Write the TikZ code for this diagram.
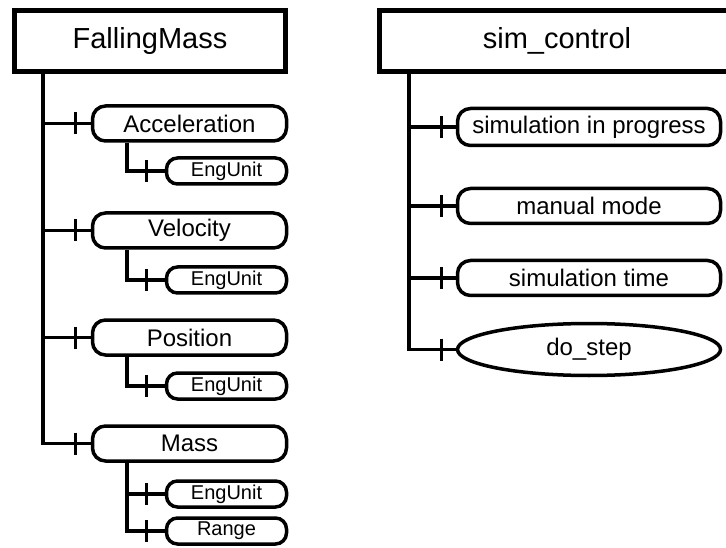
\documentclass[tikz,border=0pt]{standalone}
\usepackage{fontspec}
\setmainfont{Liberation Sans}
\usetikzlibrary{shapes.geometric}
\tikzset{
  x=1pt, y=-1pt,
  titlebox/.style={draw, line width=5pt, minimum width=271pt, minimum height=61pt,
    inner sep=0pt, font=\fontsize{29}{34}\selectfont},
  itembox/.style={draw, line width=3.5pt, rounded corners=13pt, minimum width=194pt,
    minimum height=35pt, inner sep=0pt, font=\fontsize{24}{28}\selectfont},
  wideitem/.style={itembox, minimum width=263pt},
  subbox/.style={draw, line width=3.5pt, rounded corners=11pt, minimum width=120pt,
    minimum height=26pt, inner sep=0pt, font=\fontsize{20}{24}\selectfont},
  ovalbox/.style={draw, ellipse, line width=3.5pt, minimum width=263pt, minimum height=52pt,
    inner sep=0pt, font=\fontsize{24}{28}\selectfont},
  link/.style={line width=3.5pt},
}
\newcommand{\crossbar}[2]{\draw[link] ([xshift=-#2pt]#1.west) ++(0,-11) -- ++(0,22);}
\begin{document}
\begin{tikzpicture}
\useasboundingbox (0,0) rectangle (726,548);
\clip (0,0) rectangle (726,548);

% FallingMass tree
\node[titlebox] (fm) at (150,41) {FallingMass};
\node[itembox] (acc) at (189.5,123.5) {Acceleration};
\node[subbox] (accu) at (226.5,171) {EngUnit};
\node[itembox] (vel) at (189.5,230.5) {Velocity};
\node[subbox] (velu) at (226.5,280) {EngUnit};
\node[itembox] (pos) at (189.5,337.5) {Position};
\node[subbox] (posu) at (226.5,386) {EngUnit};
\node[itembox] (mass) at (189.5,443.5) {Mass};
\node[subbox] (massu) at (226.5,494) {EngUnit};
\node[subbox] (range) at (226.5,531) {Range};

\coordinate (fmtrunk) at (fm.south -| 43,0);
\draw[link] (fmtrunk) |- (mass.west);
\foreach \n in {acc,vel,pos}{\draw[link] (\n.west -| fmtrunk) -- (\n.west);}
\foreach \n in {acc,vel,pos,mass}{\crossbar{\n}{15.5}}

\foreach \p/\c in {acc/accu,vel/velu,pos/posu}{
  \draw[link] (\p.south -| 127,0) |- (\c.west);
  \crossbar{\c}{18.5}
}
\draw[link] (mass.south -| 127,0) |- (range.west);
\draw[link] (massu.west -| 127,0) -- (massu.west);
\crossbar{massu}{18.5}
\crossbar{range}{18.5}

% sim_control tree
\node[titlebox, minimum width=356pt] (sc) at (557,41) {sim\_control};
\node[wideitem, minimum height=37pt] (prog) at (589,127) {simulation in progress};
\node[wideitem] (man) at (589,206) {manual mode};
\node[wideitem] (time) at (589,278) {simulation time};
\node[ovalbox] (step) at (589,349.5) {do\_step};

\coordinate (sctrunk) at (sc.south -| 409,0);
\draw[link] (sctrunk) |- (step.west);
\foreach \n in {prog,man,time}{\draw[link] (\n.west -| sctrunk) -- (\n.west);}
\foreach \n in {prog,man,time,step}{\crossbar{\n}{14.5}}
\end{tikzpicture}
\end{document}
